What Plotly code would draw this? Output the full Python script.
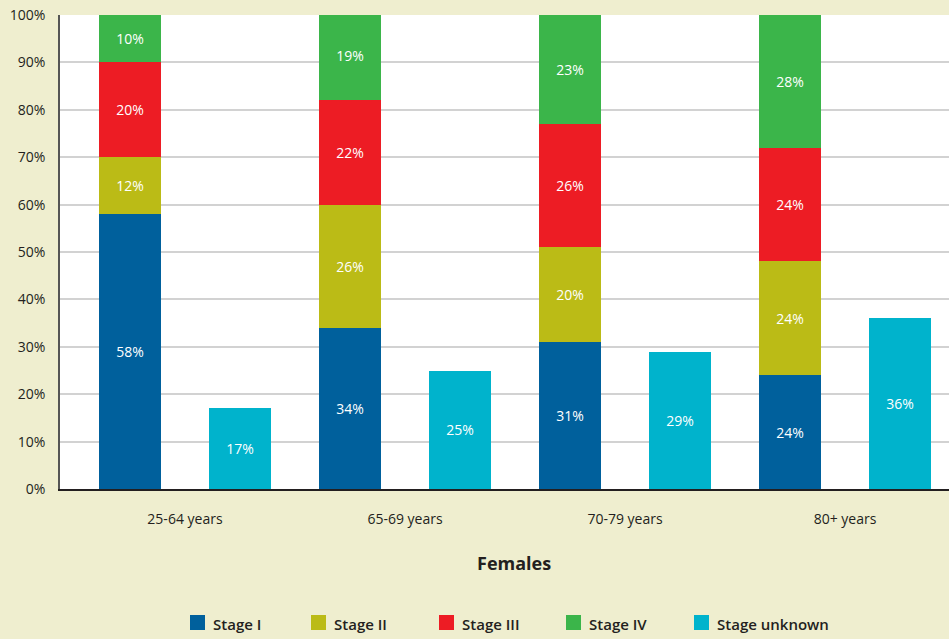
import plotly.graph_objects as go

# Stage distribution of female patients by age group (percent)
age_groups = ["25-64 years", "65-69 years", "70-79 years", "80+ years"]
stage_i = [58, 34, 31, 24]
stage_ii = [12, 26, 20, 24]
stage_iii = [20, 22, 26, 24]
stage_iv = [10, 19, 23, 28]
stage_unknown = [17, 25, 29, 36]

y_ticks = [0, 10, 20, 30, 40, 50, 60, 70, 80, 90, 100]

staged_series = [
    ("Stage I", stage_i, "#00609c"),
    ("Stage II", stage_ii, "#bbbb16"),
    ("Stage III", stage_iii, "#ed1c24"),
    ("Stage IV", stage_iv, "#3bb54a"),
]
unknown_series = ("Stage unknown", stage_unknown, "#00b3cc")

FONT = "Open Sans"
TEXT_COLOR = "#231f20"
BAR_WIDTH = 0.5636

W, H = 949, 639
M_L, M_R, M_T, M_B = 60, 0, 15, 150
PLOT_W = W - M_L - M_R
PLOT_H = H - M_T - M_B


def px_to_paper_x(px):
    return (px - M_L) / PLOT_W


def px_to_paper_y(py):
    return (H - M_B - py) / PLOT_H


# each age group occupies two slots: stacked known stages, then unknown
stack_x = [2 * i for i in range(len(age_groups))]
unknown_x = [2 * i + 1 for i in range(len(age_groups))]
group_centers = [2 * i + 0.5 for i in range(len(age_groups))]


def bar_trace(name, values, color, xs):
    return go.Bar(
        x=xs, y=values, name=name, width=BAR_WIDTH,
        marker=dict(color=color, line=dict(width=0)),
        text=[f"{v}%" for v in values], textposition="inside",
        insidetextanchor="middle", textangle=0,
        textfont=dict(family=FONT, size=14, color="white"),
        hoverinfo="skip", showlegend=False,
    )


fig = go.Figure()
for name, values, color in staged_series:
    fig.add_trace(bar_trace(name, values, color, stack_x))
fig.add_trace(bar_trace(*unknown_series, unknown_x))

# legend row below the chart: colour swatch followed by series name
legend_entries = [(n, c) for n, _, c in staged_series] + [(unknown_series[0], unknown_series[2])]
legend_swatch_left = [190, 311, 439, 566, 694]
SWATCH = 15
LEGEND_CY = 622.5

shapes = []
annotations = []
for (name, color), left in zip(legend_entries, legend_swatch_left):
    shapes.append(dict(
        type="rect", xref="paper", yref="paper",
        x0=px_to_paper_x(left), x1=px_to_paper_x(left + SWATCH),
        y0=px_to_paper_y(LEGEND_CY + SWATCH / 2), y1=px_to_paper_y(LEGEND_CY - SWATCH / 2),
        fillcolor=color, line=dict(width=0), layer="above",
    ))
    annotations.append(dict(
        text=name, xref="paper", yref="paper",
        x=px_to_paper_x(left + SWATCH + 6), y=px_to_paper_y(LEGEND_CY + 1),
        xanchor="left", yanchor="middle", showarrow=False,
        font=dict(family=FONT, size=15, color=TEXT_COLOR, weight=600),
    ))

annotations.append(dict(
    text="<b>Females</b>", xref="paper", yref="paper",
    x=px_to_paper_x(514), y=px_to_paper_y(563), xanchor="center", yanchor="middle",
    showarrow=False, font=dict(family=FONT, size=18, color=TEXT_COLOR),
))

fig.update_layout(
    width=W, height=H,
    barmode="stack",
    paper_bgcolor="#efeecf",
    plot_bgcolor="white",
    margin=dict(l=M_L, r=M_R, t=M_T, b=M_B, autoexpand=False),
    font=dict(family=FONT, size=14, color=TEXT_COLOR),
    uniformtext=dict(minsize=13, mode="show"),
    showlegend=False,
    shapes=shapes,
    annotations=annotations,
)
fig.update_xaxes(
    range=[-0.636, 7.445],
    tickvals=group_centers, ticktext=age_groups,
    ticks="", ticklabelstandoff=16, automargin=False,
    showgrid=False, zeroline=False,
    showline=True, linecolor="#231f20", linewidth=2,
    tickfont=dict(family=FONT, size=14, color=TEXT_COLOR),
)
fig.update_yaxes(
    range=[0, 100], tickvals=y_ticks, ticktext=[f"{t}%" for t in y_ticks],
    showgrid=True, gridcolor="#d2d2d2", gridwidth=1.5, automargin=False,
    zeroline=False, showline=True, linecolor="#555555", linewidth=1.5,
    ticks="", ticklabelstandoff=10,
    tickfont=dict(family=FONT, size=14, color=TEXT_COLOR),
)

fig.write_html("out.html")
